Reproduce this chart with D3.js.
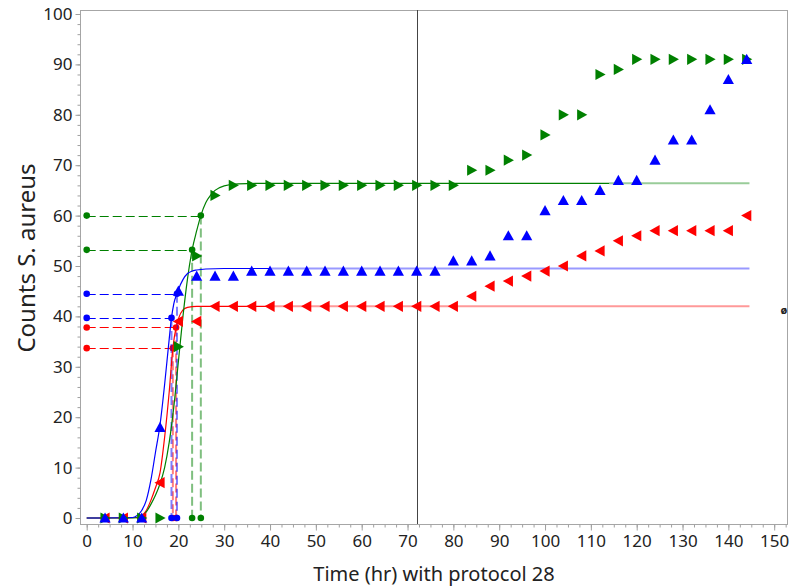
<!DOCTYPE html>
<html>
<head>
<meta charset="utf-8">
<script src="https://cdn.jsdelivr.net/npm/d3@7"></script>
<style>
  html, body { margin: 0; padding: 0; background: #fff; }
  svg { display: block; }
  text { font-family: "Noto Sans", "DejaVu Sans", sans-serif; fill: #222; }
</style>
</head>
<body>
<svg id="chart" width="790" height="586"></svg>
<script>
// ---------------- data ----------------
const times = [4,8,12,16,20,24,28,32,36,40,44,48,52,56,60,64,68,72,76,80,84,88,92,96,100,104,108,112,116,120,124,128,132,136,140,144];
const greenCounts = [0,0,0,0,34,52,64,66,66,66,66,66,66,66,66,66,66,66,66,66,69,69,71,72,76,80,80,88,89,91,91,91,91,91,91,91];
const blueCounts  = [0,0,0,18,45,48,48,48,49,49,49,49,49,49,49,49,49,49,49,51,51,52,56,56,61,63,63,65,67,67,71,75,75,81,87,91];
const redCounts   = [0,0,0,7,39,39,42,42,42,42,42,42,42,42,42,42,42,42,42,42,44,46,47,48,49,50,52,53,55,56,57,57,57,57,57,60];

// fitted growth curves
const greenCurveT = [0,10,12,13,14,15,16,17,18,19,20,21,22,23,24,24.9,26,27,28,30,33,40,114];
const greenCurveV = [0,0,0.3,1.2,2.7,4.5,6.8,10,15,22,31,40,47.5,53.2,57,60,62.6,64,65,65.9,66.3,66.4,66.4];
const blueCurveT  = [0,10,11,12,13,14,15,16,17,18,18.5,19,19.7,20,21,22,23,24,26,30,40];
const blueCurveV  = [0,0.1,0.5,1.5,3.5,7.5,13,18.5,26.5,35.5,39.7,42.5,44.5,45.3,47.3,48.5,49,49.2,49.4,49.5,49.5];
const redCurveT   = [0,11,12,13,14,15,16,17,18,18.8,19.5,20,21,22,24,30,40];
const redCurveV   = [0,0.1,0.5,1.5,3.5,6,9,16,25,33.7,37.8,39.5,41.3,41.8,42,42,42];

// asymptotes
const greenPlateau = 66.4, bluePlateau = 49.5, redPlateau = 42;
const greenAsymStart = 114, blueAsymStart = 40, redAsymStart = 40, asymEnd = 144.6;

// threshold crossings (level, time)
const greenLevels = [53.2, 60.0], greenLevelTimes = [23.0, 24.9];
const blueLevels  = [39.7, 44.5], blueLevelTimes  = [18.5, 19.7];
const redLevels   = [33.7, 37.8], redLevelTimes   = [18.8, 19.5];

const refTime = 72;

const xTicks = [0,10,20,30,40,50,60,70,80,90,100,110,120,130,140,150];
const yTicks = [0,10,20,30,40,50,60,70,80,90,100];
const xLabel = "Time (hr) with protocol 28";
const yLabel = "Counts S. aureus";

// ---------------- layout ----------------
const svg = d3.select("#chart");
const frame = { left: 80, right: 788, top: 10, bottom: 524 };
const x = d3.scaleLinear().domain([0, 150]).range([86.7, 774.2]);
const y = d3.scaleLinear().domain([0, 100]).range([518, 14]);

const GREEN = "#008000", BLUE = "#0000ff", RED = "#ff0000";

// frame
svg.append("rect")
  .attr("x", frame.left + 0.5).attr("y", frame.top + 0.5)
  .attr("width", frame.right - frame.left - 1).attr("height", frame.bottom - frame.top)
  .attr("fill", "none").attr("stroke", "#a6a6a6").attr("stroke-width", 1);

// axes
const axisColor = "#a0a0a0";
function styleAxis(g) {
  g.select(".domain").remove();
  g.selectAll(".tick line").attr("stroke", axisColor);
  g.selectAll(".tick text").style("font-size", "17px").attr("fill", "#222");
}
const gxMinor = svg.append("g").attr("transform", `translate(0,${frame.bottom + 0.5})`)
  .call(d3.axisBottom(x).tickValues(d3.range(0, 153, 2.5)).tickSize(3).tickFormat(""));
styleAxis(gxMinor);
const gx = svg.append("g").attr("transform", `translate(0,${frame.bottom + 0.5})`)
  .call(d3.axisBottom(x).tickValues(xTicks).tickSize(6).tickPadding(4).tickFormat(d3.format("d")));
styleAxis(gx);

const gyMinor = svg.append("g").attr("transform", `translate(${frame.left + 0.5},0)`)
  .call(d3.axisLeft(y).tickValues(d3.range(0, 101, 2)).tickSize(3).tickFormat(""));
styleAxis(gyMinor);
const gy = svg.append("g").attr("transform", `translate(${frame.left + 0.5},0)`)
  .call(d3.axisLeft(y).tickValues(yTicks).tickSize(5).tickPadding(3).tickFormat(d3.format("d")));
styleAxis(gy);

// axis titles
svg.append("text").attr("x", 434).attr("y", 581)
  .attr("text-anchor", "middle").style("font-size", "20px").text(xLabel);
svg.append("text").attr("transform", "translate(35,258) rotate(-90)")
  .attr("text-anchor", "middle").style("font-size", "24px").text(yLabel);

// reference vertical line
svg.append("line")
  .attr("x1", Math.round(x(refTime)) + 0.5).attr("x2", Math.round(x(refTime)) + 0.5)
  .attr("y1", frame.top).attr("y2", frame.bottom)
  .attr("stroke", "#444").attr("stroke-width", 1);

// asymptotes
function asym(level, t0, color) {
  svg.append("line")
    .attr("x1", x(t0)).attr("x2", x(asymEnd))
    .attr("y1", y(level)).attr("y2", y(level))
    .attr("stroke", color).attr("stroke-opacity", 0.4).attr("stroke-width", 2);
}
asym(greenPlateau, greenAsymStart, GREEN);
asym(bluePlateau, blueAsymStart, BLUE);
asym(redPlateau, redAsymStart, RED);

// threshold guides
function guides(levels, lt, color) {
  levels.forEach((lv, i) => {
    const t = lt[i];
    const yy = Math.round(y(lv)) + 0.5;
    svg.append("line")
      .attr("x1", x(0)).attr("x2", x(t)).attr("y1", yy).attr("y2", yy)
      .attr("stroke", color).attr("stroke-width", 1.2).attr("stroke-dasharray", "9,4");
    svg.append("line")
      .attr("x1", x(t)).attr("x2", x(t)).attr("y1", y(lv)).attr("y2", y(0))
      .attr("stroke", color).attr("stroke-opacity", 0.5).attr("stroke-width", 2)
      .attr("stroke-dasharray", "9,4");
    [[0, lv], [t, lv], [t, 0]].forEach(p => {
      svg.append("circle").attr("cx", x(p[0])).attr("cy", y(p[1])).attr("r", 3.3)
        .attr("fill", color);
    });
  });
}
guides(redLevels, redLevelTimes, RED);
guides(blueLevels, blueLevelTimes, BLUE);
guides(greenLevels, greenLevelTimes, GREEN);

// curves
const line = d3.line().x(d => x(d[0])).y(d => y(d[1])).curve(d3.curveMonotoneX);
function curve(ts, vs, color) {
  svg.append("path").datum(ts.map((t, i) => [t, vs[i]]))
    .attr("d", line).attr("fill", "none").attr("stroke", color).attr("stroke-width", 1.2);
}
curve(redCurveT, redCurveV, RED);
curve(greenCurveT, greenCurveV, GREEN);
curve(blueCurveT, blueCurveV, BLUE);

// markers
const s = 5.6; // half size
const triRight = `M${-s + 1},${-s} L${s},0 L${-s + 1},${s} Z`;
const triLeft  = `M${s - 1},${-s} L${-s},0 L${s - 1},${s} Z`;
const triUp    = `M0,${-s} L${s},${s - 1} L${-s},${s - 1} Z`;
function markers(vals, path, color) {
  svg.append("g").selectAll("path").data(times.map((t, i) => [t, vals[i]]))
    .join("path")
    .attr("transform", d => `translate(${x(d[0])},${y(d[1])})`)
    .attr("d", path).attr("fill", color);
}
markers(redCounts, triLeft, RED);
markers(greenCounts, triRight, GREEN);
markers(blueCounts, triUp, BLUE);

// small stray glyph at right edge
svg.append("text").attr("x", 784).attr("y", 314).attr("text-anchor", "middle")
  .style("font-size", "11px").style("font-weight", "bold").attr("fill", "#333").text("ø");
</script>
</body>
</html>
